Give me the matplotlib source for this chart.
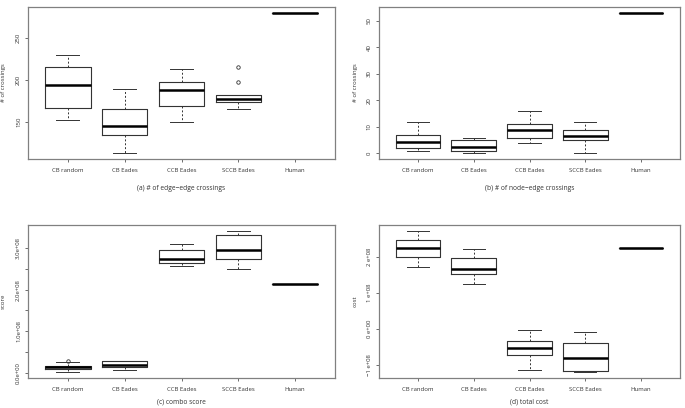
import matplotlib
matplotlib.use("Agg")
import matplotlib.pyplot as plt

plt.rcParams['font.family'] = ['Open Sans', 'DejaVu Sans']

groups = ["CB random", "CB Eades", "CCB Eades", "SCCB Eades", "Human"]

# (a) edge-edge crossings
a_lo = [153, 113, 150, 166, 280]
a_q1 = [167, 135, 169, 174, 280]
a_med = [194, 146, 188, 177, 280]
a_q3 = [215, 166, 198, 182.5, 280]
a_hi = [230, 189, 213, 182.5, 280]
a_fl = [[], [], [], [198, 215], []]

# (b) node-edge crossings
b_lo = [1, 0, 4, 0, 53]
b_q1 = [2, 1, 6, 5, 53]
b_med = [4.5, 2.5, 9, 6.5, 53]
b_q3 = [7, 5, 11, 9, 53]
b_hi = [12, 6, 16, 12, 53]
b_fl = [[], [], [], [], []]

# (c) combo score
c_lo = [0.01e8, 0.058e8, 2.57e8, 2.50e8, 2.135e8]
c_q1 = [0.08e8, 0.13e8, 2.64e8, 2.73e8, 2.135e8]
c_med = [0.13e8, 0.18e8, 2.75e8, 2.95e8, 2.135e8]
c_q3 = [0.16e8, 0.27e8, 2.95e8, 3.32e8, 2.135e8]
c_hi = [0.25e8, 0.29e8, 3.11e8, 3.42e8, 2.135e8]
c_fl = [[0.27e8], [], [], [], []]

# (d) total cost
d_lo = [1.72e8, 1.26e8, -1.15e8, -1.21e8, 2.26e8]
d_q1 = [2.00e8, 1.54e8, -0.73e8, -1.18e8, 2.26e8]
d_med = [2.24e8, 1.68e8, -0.55e8, -0.82e8, 2.26e8]
d_q3 = [2.48e8, 1.96e8, -0.34e8, -0.39e8, 2.26e8]
d_hi = [2.73e8, 2.23e8, -0.04e8, -0.09e8, 2.26e8]
d_fl = [[], [], [], [], []]

a_ticks = [150, 200, 250]
a_tl = ["150", "200", "250"]
b_ticks = [0, 10, 20, 30, 40, 50]
b_tl = ["0", "10", "20", "30", "40", "50"]
c_ticks = [0, 0.5e8, 1e8, 1.5e8, 2e8, 2.5e8, 3e8]
c_tl = ["0.0e+00", "", "1.0e+08", "", "2.0e+08", "", "3.0e+08"]
d_ticks = [-1e8, 0, 1e8, 2e8]
d_tl = ["\u22121 e+08", "0 e+00", "1 e+08", "2 e+08"]

fs = 4.3
frame = "#808080"


def panel(rect, lo, q1, med, q3, hi, fl, ticks, tl, ylabel, caption, lab_x, cap_y):
    ax = fig.add_axes(rect)
    stats = []
    for i in range(len(groups)):
        stats.append(dict(whislo=lo[i], q1=q1[i], med=med[i], q3=q3[i],
                          whishi=hi[i], fliers=fl[i], label=groups[i]))
    ax.bxp(stats, positions=range(1, 6), widths=0.8,
           boxprops=dict(color="#333333", linewidth=0.8),
           medianprops=dict(color="black", linewidth=1.8),
           whiskerprops=dict(color="#333333", linewidth=0.7, linestyle=(0, (2, 2))),
           capprops=dict(color="#333333", linewidth=0.7),
           flierprops=dict(marker="o", markersize=2.5, markerfacecolor="none",
                           markeredgecolor="#333333", markeredgewidth=0.6))
    vals = lo + hi + [v for f in fl for v in f]
    vmin, vmax = min(vals), max(vals)
    pad = 0.04 * (vmax - vmin)
    ax.set_ylim(vmin - pad, vmax + pad)
    ax.set_xlim(0.3, 5.7)
    ax.set_yticks(ticks)
    ax.set_yticklabels(tl, rotation=90, va="center", fontsize=fs, color="#333333")
    ax.set_xticks(range(1, 6))
    ax.set_xticklabels(groups, fontsize=fs, color="#333333")
    ax.tick_params(length=2.5, width=0.6, color="#555555")
    ax.tick_params(axis="x", pad=4)
    ax.tick_params(axis="y", pad=2.5)
    for s in ax.spines.values():
        s.set_color(frame)
        s.set_linewidth(0.9)
    ax.set_ylabel(ylabel, fontsize=fs, color="#333333")
    ax.yaxis.set_label_coords(lab_x, 0.5)
    ax.text(0.5, cap_y, caption, transform=ax.transAxes, ha="center",
            va="center", fontsize=4.8, color="#333333")
    return ax


fig = plt.figure(figsize=(6.85, 4.08), dpi=100)

panel([0.041, 0.610, 0.448, 0.373], a_lo, a_q1, a_med, a_q3, a_hi, a_fl,
      a_ticks, a_tl, "# of crossings", "(a) # of edge\u2212edge crossings", -0.072, -0.19)
panel([0.553, 0.610, 0.440, 0.373], b_lo, b_q1, b_med, b_q3, b_hi, b_fl,
      b_ticks, b_tl, "# of crossings", "(b) # of node\u2212edge crossings", -0.07, -0.19)
panel([0.041, 0.074, 0.448, 0.374], c_lo, c_q1, c_med, c_q3, c_hi, c_fl,
      c_ticks, c_tl, "score", "(c) combo score", -0.072, -0.16)
panel([0.553, 0.074, 0.440, 0.374], d_lo, d_q1, d_med, d_q3, d_hi, d_fl,
      d_ticks, d_tl, "cost", "(d) total cost", -0.07, -0.16)

fig.savefig("out.png", dpi=100)
